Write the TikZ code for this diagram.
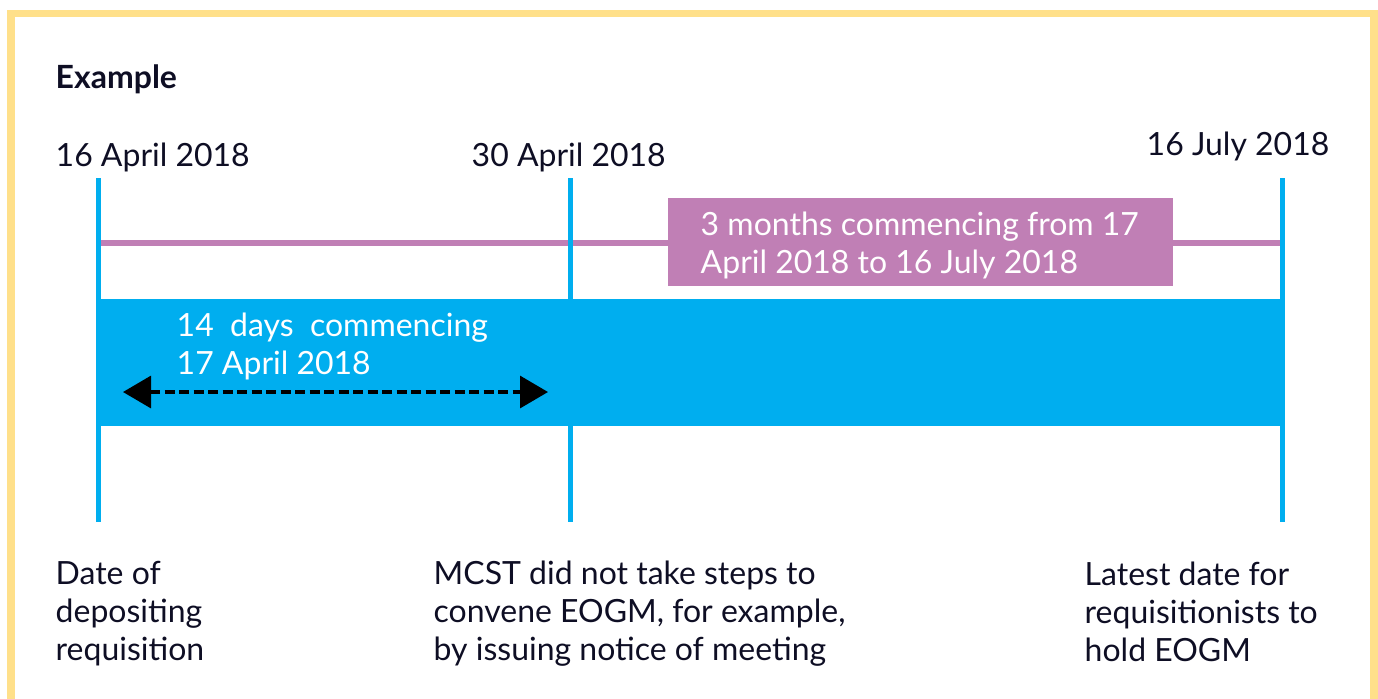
\documentclass[tikz,border=0pt]{standalone}
\usepackage{fontspec}
\setmainfont{Lato}
\usetikzlibrary{arrows.meta}
\definecolor{frameyellow}{RGB}{255,224,138}
\definecolor{periodblue}{RGB}{0,174,239}
\definecolor{periodpurple}{RGB}{192,127,181}
\definecolor{inkblue}{RGB}{14,14,36}
\begin{document}
\begin{tikzpicture}[
    datelabel/.style={anchor=base west, inner sep=0pt, text=inkblue, font=\fontsize{9.1pt}{10.8pt}\selectfont},
    notelabel/.style={datelabel, align=left},
    bandlabel/.style={notelabel, text=white},
    dayline/.style={periodblue, line width=0.045cm},
    dayarrow/.style={line width=0.032cm, dash pattern=on 0.1cm off 0.045cm, {Triangle[length=0.28cm,width=0.32cm]}-{Triangle[length=0.28cm,width=0.32cm]}}
  ]
    \useasboundingbox (0,0) rectangle (13.78,-6.98);
    % frame
    \draw[frameyellow, line width=0.075cm] (0.11,-7.2) -- (0.11,-0.135) -- (13.74,-0.135) -- (13.74,-7.2);
    % timeline points
    \coordinate (apr16top) at (0.985,-1.78);  \coordinate (apr16bot) at (0.985,-5.22);
    \coordinate (apr30top) at (5.705,-1.78);  \coordinate (apr30bot) at (5.705,-5.22);
    \coordinate (jul16top) at (12.825,-1.78); \coordinate (jul16bot) at (12.825,-5.22);
    \coordinate (monthsl) at (0.985,-2.43);   \coordinate (monthsr) at (12.825,-2.43);
    \coordinate (daysl) at (1.23,-3.92);      \coordinate (daysr) at (5.48,-3.92);
    % 3 months
    \draw[periodpurple, line width=0.065cm] (monthsl) -- (monthsr);
    \fill[periodpurple] (6.68,-1.98) rectangle (11.73,-2.86);
    % 14 days
    \fill[periodblue] (0.96,-2.99) rectangle (12.85,-4.26);
    \draw[dayline] (apr16top) -- (apr16bot);
    \draw[dayline] (apr30top) -- (apr30bot);
    \draw[dayline] (jul16top) -- (jul16bot);
    \draw[dayarrow] (daysl) -- (daysr);

    % base anchor of a multi-line node sits on its last line
    \node[datelabel, font=\fontsize{9.1pt}{10.8pt}\selectfont\bfseries] (title) at (0.55,-0.88) {Example};
    \node[datelabel] (apr16) at (0.55,-1.66) {16 April 2018};
    \node[datelabel] (apr30) at (4.71,-1.66) {30 April 2018};
    \node[datelabel] (jul16) at (11.46,-1.55) {16 July 2018};
    \node[bandlabel] (months) at (7.00,-2.73) {3 months commencing from 17\\April 2018 to 16 July 2018};
    \node[bandlabel] (days) at (1.76,-3.74) {14~ days~ commencing\\17 April 2018};
    \node[notelabel] (deposit) at (0.55,-6.60) {Date of\\depositing\\requisition};
    \node[notelabel] (mcst) at (4.33,-6.60) {MCST did not take steps to\\convene EOGM, for example,\\by issuing notice of meeting};
    \node[notelabel] (latest) at (10.84,-6.61) {Latest date for\\requisitionists to\\hold EOGM};
  \end{tikzpicture}
\end{document}
